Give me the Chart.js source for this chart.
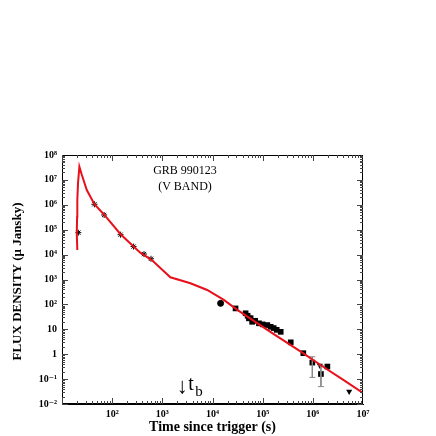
<!DOCTYPE html>
<html>
<head>
<meta charset="utf-8">
<script src="https://cdn.jsdelivr.net/npm/chart.js@4/dist/chart.umd.min.js"></script>
<style>
  body { margin: 0; background: #fff; }
  #wrap { width: 436px; height: 436px; }
</style>
</head>
<body>
<div id="wrap"><canvas id="grbChart" width="436" height="436"></canvas></div>
<script>
// Model light curve (red line), time in s, flux in micro Jansky
const curveTime = [20.2, 19.7, 20.0, 20.2, 20.9, 22.2, 24.8, 31.2, 44.3, 69.2, 147, 267, 363, 617, 1445,
                   3630, 7830, 16800, 31200, 62200, 158000, 575000, 1580000, 3980000, 10000000];
const curveFlux = [15300, 72000, 320000, 1550000, 7900000, 34000000, 16000000, 3900000, 1050000, 400000,
                   66000, 21000, 12000, 6000, 1230, 710, 380, 151, 60, 24, 6.9, 1.26, 0.32, 0.095, 0.028];

// Early optical flash points (stars)
const starTime = [21.2, 44.3, 69.2, 147, 267, 431, 594];
const starFlux = [76000, 1050000, 390000, 63000, 21000, 10500, 6800];

// Single circle point
const circleTime = [14500];
const circleFlux = [110];

// Afterglow points (squares)
const squareTime = [28800, 45700, 50100, 53200, 57500, 61700, 70800, 84300, 100000, 124000, 144500,
                    166000, 190500, 229000, 363000, 646000, 977000, 1450000, 1950000];
const squareFlux = [69, 44, 35, 27.5, 28, 20, 22, 17.4, 15.8, 14.8, 12.6, 11.2, 9.5, 7.9, 3.0, 1.1,
                    0.46, 0.16, 0.32];

// Upper limits (down triangles)
const limitTime = [1380000, 5300000];
const limitFlux = [0.35, 0.032];

// Error bars
const errTime = [977000, 1450000];
const errHigh = [0.79, 0.34];
const errLow = [0.117, 0.05];

// Axis ticks
const xTickValues = [1e1, 1e2, 1e3, 1e4, 1e5, 1e6, 1e7];
const xTickLabels = ['', '10\u00B2', '10\u00B3', '10\u2074', '10\u2075', '10\u2076', '10\u2077'];
const yTickValues = [1e-2, 1e-1, 1, 1e1, 1e2, 1e3, 1e4, 1e5, 1e6, 1e7, 1e8];
const yTickLabels = ['10\u207B\u00B2', '10\u207B\u00B9', '1', '10', '10\u00B2', '10\u00B3', '10\u2074',
                     '10\u2075', '10\u2076', '10\u2077', '10\u2078'];

const serif = "'Liberation Serif', 'DejaVu Serif', serif";

function pairs(xs, ys) {
    return xs.map((x, i) => ({ x: x, y: ys[i] }));
}

// Error bar datasets, one per bar
const errorSets = errTime.map((t, i) => ({
    type: 'line',
    data: [{ x: t, y: errHigh[i] }, { x: t, y: errLow[i] }],
    borderColor: '#8a8a8a',
    borderWidth: 1,
    pointStyle: 'line',
    pointRadius: 3,
    pointBorderColor: '#8a8a8a',
    pointBorderWidth: 1,
    fill: false
}));

// Inward ticks, box and text labels
const framePlugin = {
    id: 'framePlugin',
    afterDraw(chart) {
        const ctx = chart.ctx;
        const a = chart.chartArea;
        const xs = chart.scales.x;
        const ys = chart.scales.y;
        ctx.save();
        ctx.strokeStyle = '#000';
        ctx.lineWidth = 1;
        ctx.strokeRect(a.left + 0.5, a.top + 0.5, a.right - a.left - 1, a.bottom - a.top - 1);

        ctx.strokeStyle = '#444';
        ctx.beginPath();
        for (let e = -2; e < 8; e++) {
            for (let m = 1; m < 10; m++) {
                const py = Math.round(ys.getPixelForValue(m * Math.pow(10, e))) + 0.5;
                const len = m === 1 ? 6 : 3;
                ctx.moveTo(a.left, py); ctx.lineTo(a.left + len, py);
                ctx.moveTo(a.right, py); ctx.lineTo(a.right - len, py);
            }
        }
        for (let e = 1; e < 7; e++) {
            for (let m = 1; m < 10; m++) {
                const px = Math.round(xs.getPixelForValue(m * Math.pow(10, e))) + 0.5;
                const len = m === 1 ? 6 : 3;
                ctx.moveTo(px, a.bottom); ctx.lineTo(px, a.bottom - len);
                ctx.moveTo(px, a.top); ctx.lineTo(px, a.top + len);
            }
        }
        ctx.stroke();

        ctx.fillStyle = '#000';
        ctx.textAlign = 'center';
        ctx.textBaseline = 'middle';

        // Y axis title, rotated
        ctx.save();
        ctx.translate(18, (a.top + a.bottom) / 2 + 2);
        ctx.rotate(-Math.PI / 2);
        ctx.font = 'bold 13px ' + serif;
        ctx.fillText('FLUX DENSITY (\u03BC Jansky)', 0, 0);
        ctx.restore();

        // Burst name
        ctx.font = '12px ' + serif;
        ctx.fillText('GRB 990123', a.left + 123, a.top + 16);
        ctx.fillText('(V BAND)', a.left + 123, a.top + 32);

        // Break time marker
        const bx = xs.getPixelForValue(2500);
        ctx.font = '22px ' + serif;
        ctx.fillText('\u2193', bx, a.bottom - 17);
        ctx.textAlign = 'left';
        ctx.font = '20px ' + serif;
        ctx.fillText('t', bx + 6, a.bottom - 19);
        ctx.font = '15px ' + serif;
        ctx.fillText('b', bx + 13, a.bottom - 12);
        ctx.restore();
    }
};

document.addEventListener('DOMContentLoaded', function() {
    const ctx = document.getElementById('grbChart').getContext('2d');

    new Chart(ctx, {
        type: 'scatter',
        data: {
            datasets: [
                {
                    type: 'line',
                    data: pairs(curveTime, curveFlux),
                    borderColor: '#e8101a',
                    borderWidth: 2,
                    pointRadius: 0,
                    tension: 0,
                    fill: false
                },
                ...errorSets,
                {
                    data: pairs(starTime, starFlux),
                    pointStyle: 'star',
                    pointRadius: 3,
                    borderColor: '#000',
                    borderWidth: 1
                },
                {
                    data: pairs(circleTime, circleFlux),
                    pointStyle: 'circle',
                    pointRadius: 3,
                    backgroundColor: '#000',
                    borderColor: '#000'
                },
                {
                    data: pairs(squareTime, squareFlux),
                    pointStyle: 'rect',
                    pointRadius: 4,
                    backgroundColor: '#000',
                    borderColor: '#000',
                    borderWidth: 0
                },
                {
                    data: pairs(limitTime, limitFlux),
                    pointStyle: 'triangle',
                    rotation: 180,
                    pointRadius: 3.5,
                    backgroundColor: '#000',
                    borderColor: '#000',
                    borderWidth: 0
                }
            ]
        },
        options: {
            responsive: false,
            animation: false,
            layout: { padding: { left: 0, top: 155, right: 73, bottom: 0 } },
            scales: {
                x: {
                    type: 'logarithmic',
                    min: 10,
                    max: 1e7,
                    grid: { display: false, drawTicks: false },
                    border: { display: true, color: '#000' },
                    afterBuildTicks: function(scale) {
                        scale.ticks = xTickValues.map(v => ({ value: v }));
                    },
                    afterFit: function(scale) { scale.height = 32; },
                    ticks: {
                        autoSkip: false,
                        maxRotation: 0,
                        padding: 4,
                        color: '#000',
                        font: { family: serif, size: 10, weight: 'bold' },
                        callback: function(value, index) { return xTickLabels[index]; }
                    },
                    title: {
                        display: true,
                        text: 'Time since trigger (s)',
                        color: '#000',
                        padding: { top: 0, bottom: 0 },
                        font: { family: serif, size: 14, weight: 'bold' }
                    }
                },
                y: {
                    type: 'logarithmic',
                    min: 1e-2,
                    max: 1e8,
                    grid: { display: false, drawTicks: false },
                    border: { display: true, color: '#000' },
                    afterBuildTicks: function(scale) {
                        scale.ticks = yTickValues.map(v => ({ value: v }));
                    },
                    afterFit: function(scale) { scale.width = 62; },
                    ticks: {
                        autoSkip: false,
                        padding: 5,
                        color: '#000',
                        font: { family: serif, size: 10, weight: 'bold' },
                        callback: function(value, index) { return yTickLabels[index]; }
                    },
                    title: { display: false }
                }
            },
            plugins: {
                legend: { display: false },
                tooltip: { enabled: false }
            }
        },
        plugins: [framePlugin]
    });
});
</script>
</body>
</html>
